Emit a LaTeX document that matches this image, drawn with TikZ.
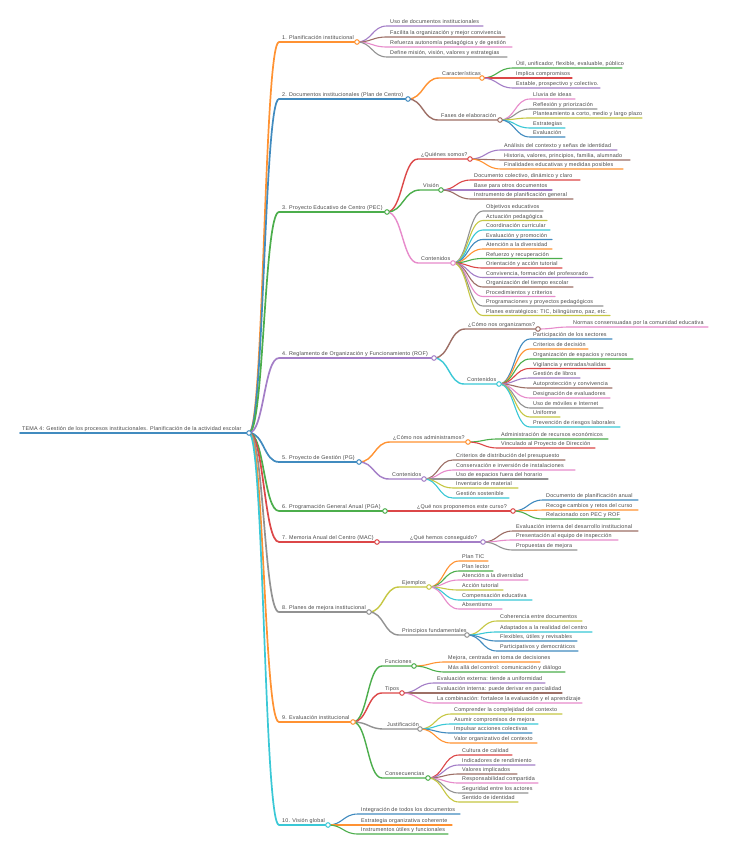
\documentclass[tikz,border=0pt]{standalone}
\usepackage{fontspec}
\setmainfont{Liberation Sans}[LetterSpace=3.5]
\usetikzlibrary{calc}
\definecolor{tBlue}{HTML}{1F77B4}
\definecolor{tOrange}{HTML}{FF7F0E}
\definecolor{tGreen}{HTML}{2CA02C}
\definecolor{tRed}{HTML}{D62728}
\definecolor{tPurple}{HTML}{9467BD}
\definecolor{tBrown}{HTML}{8C564B}
\definecolor{tPink}{HTML}{E377C2}
\definecolor{tGray}{HTML}{7F7F7F}
\definecolor{tOlive}{HTML}{BCBD22}
\definecolor{tCyan}{HTML}{17BECF}
\colorlet{cBlue}{tBlue!85!white}
\colorlet{cOrange}{tOrange!85!white}
\colorlet{cGreen}{tGreen!85!white}
\colorlet{cRed}{tRed!85!white}
\colorlet{cPurple}{tPurple!85!white}
\colorlet{cBrown}{tBrown!85!white}
\colorlet{cPink}{tPink!85!white}
\colorlet{cGray}{tGray!85!white}
\colorlet{cOlive}{tOlive!85!white}
\colorlet{cCyan}{tCyan!85!white}
\tikzset{
  txt/.style={inner sep=0pt, font=\fontsize{5.4}{6}\selectfont, text=black!72},
  wa/.style={line width=1.7pt, line cap=round},
  wb/.style={line width=1.4pt, line cap=round},
  wc/.style={line width=1.1pt, line cap=round},
  dot/.style={circle, inner sep=0pt, minimum size=4.6pt, fill=white, line width=1pt}
}
\newcommand\mn[7]{%
  \coordinate (#1s) at ({#3-3},{#4});
  \coordinate (#1) at ({#5},{#4});
  \node[txt,anchor=base west] (#1t) at ({#3},{#4-2.4}) {#7};
  \draw[#6] let \p1=(#2), \p2=(#1s) in (\p1) .. controls ({0.5*\x1+0.5*\x2},\y1) and ({0.5*\x1+0.5*\x2},\y2) .. (\p2) -- (#1);
}
\newcommand\dt[2]{\node[dot,draw=#2] at (#1) {};}
\begin{document}
\begin{tikzpicture}[x=1pt,y=-1pt]
\useasboundingbox[fill=white] (0,0) rectangle (733,848);
% root
\coordinate (Rs) at (20,433);
\coordinate (R) at (249,433);
\node[txt,anchor=base west] (Rt) at (22,430.6) {TEMA 4: Gestión de los procesos institucionales. Planificación de la actividad escolar};
\draw[cBlue,wa] (Rs) -- (R);
% level 1
\mn{A1}{R}{282}{42}{357}{cOrange,wa}{1. Planificación institucional}
\mn{A2}{R}{282}{99}{408}{cBlue,wa}{2. Documentos institucionales (Plan de Centro)}
\mn{A3}{R}{282}{212}{387}{cGreen,wa}{3. Proyecto Educativo de Centro (PEC)}
\mn{A4}{R}{282}{358}{434}{cPurple,wa}{4. Reglamento de Organización y Funcionamiento (ROF)}
\mn{A5}{R}{282}{462}{359}{cBlue,wa}{5. Proyecto de Gestión (PG)}
\mn{A6}{R}{282}{511}{385}{cGreen,wa}{6. Programación General Anual (PGA)}
\mn{A7}{R}{282}{542}{377}{cRed,wa}{7. Memoria Anual del Centro (MAC)}
\mn{A8}{R}{282}{612}{369}{cGray,wa}{8. Planes de mejora institucional}
\mn{A9}{R}{282}{722}{353}{cOrange,wa}{9. Evaluación institucional}
\mn{A10}{R}{282}{825}{328}{cCyan,wa}{10. Visión global}
% branch 1
\mn{A1a}{A1}{390}{26}{483}{cPurple,wc}{Uso de documentos institucionales}
\mn{A1b}{A1}{390}{37}{505}{cBrown,wc}{Facilita la organización y mejor convivencia}
\mn{A1c}{A1}{390}{47}{512}{cPink,wc}{Refuerza autonomía pedagógica y de gestión}
\mn{A1d}{A1}{390}{57}{507}{cGray,wc}{Define misión, visión, valores y estrategias}
% branch 2
\mn{B1}{A2}{442}{78}{482}{cOrange,wb}{Características}
\mn{B2}{A2}{441}{120}{500}{cBrown,wb}{Fases de elaboración}
\mn{B1a}{B1}{516}{68}{622}{cGreen,wc}{Útil, unificador, flexible, evaluable, público}
\mn{B1b}{B1}{516}{78}{572}{cRed,wc}{Implica compromisos}
\mn{B1c}{B1}{516}{88}{600}{cPurple,wc}{Estable, prospectivo y colectivo.}
\mn{B2a}{B2}{533}{99}{575}{cPink,wc}{Lluvia de ideas}
\mn{B2b}{B2}{533}{109}{597}{cGray,wc}{Reflexión y priorización}
\mn{B2c}{B2}{533}{118}{642}{cOlive,wc}{Planteamiento a corto, medio y largo plazo}
\mn{B2d}{B2}{533}{128}{565}{cCyan,wc}{Estrategias}
\mn{B2e}{B2}{533}{137}{565}{cBlue,wc}{Evaluación}
% branch 3
\mn{C1}{A3}{421}{159}{470}{cRed,wb}{¿Quiénes somos?}
\mn{C2}{A3}{423}{190}{441}{cGreen,wb}{Visión}
\mn{C3}{A3}{421}{263}{453}{cPink,wb}{Contenidos}
\mn{C1a}{C1}{504}{150}{617}{cPurple,wc}{Análisis del contexto y señas de identidad}
\mn{C1b}{C1}{504}{160}{630}{cBrown,wc}{Historia, valores, principios, familia, alumnado}
\mn{C1c}{C1}{504}{169}{623}{cOrange,wc}{Finalidades educativas y medidas posibles}
\mn{C2a}{C2}{474}{180}{580}{cRed,wc}{Documento colectivo, dinámico y claro}
\mn{C2b}{C2}{474}{190}{552}{cPurple,wc}{Base para otros documentos}
\mn{C2c}{C2}{474}{199}{573}{cBrown,wc}{Instrumento de planificación general}
\mn{C3a}{C3}{486}{211}{543}{cGray,wc}{Objetivos educativos}
\mn{C3b}{C3}{486}{220.5}{547}{cOlive,wc}{Actuación pedagógica}
\mn{C3c}{C3}{486}{230}{550}{cCyan,wc}{Coordinación curricular}
\mn{C3d}{C3}{486}{239.5}{552}{cBlue,wc}{Evaluación y promoción}
\mn{C3e}{C3}{486}{249}{552}{cOrange,wc}{Atención a la diversidad}
\mn{C3f}{C3}{486}{258.5}{562}{cGreen,wc}{Refuerzo y recuperación}
\mn{C3g}{C3}{486}{268}{562}{cRed,wc}{Orientación y acción tutorial}
\mn{C3h}{C3}{486}{277.5}{593}{cPurple,wc}{Convivencia, formación del profesorado}
\mn{C3i}{C3}{486}{287}{573}{cBrown,wc}{Organización del tiempo escolar}
\mn{C3j}{C3}{486}{296.5}{555}{cPink,wc}{Procedimientos y criterios}
\mn{C3k}{C3}{486}{306}{603}{cGray,wc}{Programaciones y proyectos pedagógicos}
\mn{C3l}{C3}{486}{315.5}{610}{cOlive,wc}{Planes estratégicos: TIC, bilingüismo, paz, etc.}
% branch 4
\mn{D1}{A4}{468}{329}{538}{cBrown,wb}{¿Cómo nos organizamos?}
\mn{D2}{A4}{467}{384}{499}{cCyan,wb}{Contenidos}
\mn{D1a}{D1}{573}{327}{708}{cPink,wc}{Normas consensuadas por la comunidad educativa}
\mn{D2a}{D2}{533}{339}{612}{cBlue,wc}{Participación de los sectores}
\mn{D2b}{D2}{533}{349}{588}{cOrange,wc}{Criterios de decisión}
\mn{D2c}{D2}{533}{359}{633}{cGreen,wc}{Organización de espacios y recursos}
\mn{D2d}{D2}{533}{368.5}{610}{cRed,wc}{Vigilancia y entradas/salidas}
\mn{D2e}{D2}{533}{378}{580}{cPurple,wc}{Gestión de libros}
\mn{D2f}{D2}{533}{388}{612}{cBrown,wc}{Autoprotección y convivencia}
\mn{D2g}{D2}{533}{398}{610}{cPink,wc}{Designación de evaluadores}
\mn{D2h}{D2}{533}{408}{603}{cGray,wc}{Uso de móviles e Internet}
\mn{D2i}{D2}{533}{417}{560}{cOlive,wc}{Uniforme}
\mn{D2j}{D2}{533}{427}{620}{cCyan,wc}{Prevención de riesgos laborales}
% branch 5
\mn{E1}{A5}{393}{442}{468}{cOrange,wb}{¿Cómo nos administramos?}
\mn{E2}{A5}{392}{479}{424}{cPurple,wb}{Contenidos}
\mn{E1a}{E1}{501}{439}{608}{cGreen,wc}{Administración de recursos económicos}
\mn{E1b}{E1}{501}{448}{595}{cRed,wc}{Vinculado al Proyecto de Dirección}
\mn{E2a}{E2}{456}{460}{565}{cBrown,wc}{Criterios de distribución del presupuesto}
\mn{E2b}{E2}{456}{470}{575}{cPink,wc}{Conservación e inversión de instalaciones}
\mn{E2c}{E2}{456}{479}{548}{cGray,wc}{Uso de espacios fuera del horario}
\mn{E2d}{E2}{456}{488}{518}{cOlive,wc}{Inventario de material}
\mn{E2e}{E2}{456}{498}{509}{cCyan,wc}{Gestión sostenible}
% branch 6
\mn{F1}{A6}{417}{511}{513}{cRed,wb}{¿Qué nos proponemos este curso?}
\mn{F1a}{F1}{546}{500}{638}{cBlue,wc}{Documento de planificación anual}
\mn{F1b}{F1}{546}{510}{638}{cOrange,wc}{Recoge cambios y retos del curso}
\mn{F1c}{F1}{546}{519}{620}{cGreen,wc}{Relacionado con PEC y ROF}
% branch 7
\mn{G1}{A7}{410}{542}{483}{cPurple,wb}{¿Qué hemos conseguido?}
\mn{G1a}{G1}{516}{531}{638}{cBrown,wc}{Evaluación interna del desarrollo institucional}
\mn{G1b}{G1}{516}{540}{618}{cPink,wc}{Presentación al equipo de inspección}
\mn{G1c}{G1}{516}{550}{577}{cGray,wc}{Propuestas de mejora}
% branch 8
\mn{H1}{A8}{402}{587}{429}{cOlive,wb}{Ejemplos}
\mn{H2}{A8}{402}{635}{467}{cGray,wb}{Principios fundamentales}
\mn{H1a}{H1}{462}{561}{488}{cOrange,wc}{Plan TIC}
\mn{H1b}{H1}{462}{571}{493}{cGreen,wc}{Plan lector}
\mn{H1c}{H1}{462}{580}{528}{cPink,wc}{Atención a la diversidad}
\mn{H1d}{H1}{462}{590}{503}{cOlive,wc}{Acción tutorial}
\mn{H1e}{H1}{462}{600}{532}{cCyan,wc}{Compensación educativa}
\mn{H1f}{H1}{462}{609}{502}{cPink,wc}{Absentismo}
\mn{H2a}{H2}{500}{621}{582}{cOlive,wc}{Coherencia entre documentos}
\mn{H2b}{H2}{500}{632}{592}{cCyan,wc}{Adaptados a la realidad del centro}
\mn{H2c}{H2}{500}{641}{577}{cBlue,wc}{Flexibles, útiles y revisables}
\mn{H2d}{H2}{500}{651}{578}{cBlue,wc}{Participativos y democráticos}
% branch 9
\mn{I1}{A9}{385}{666}{414}{cGreen,wb}{Funciones}
\mn{I2}{A9}{385}{693}{402}{cRed,wb}{Tipos}
\mn{I3}{A9}{387}{729}{420}{cGray,wb}{Justificación}
\mn{I4}{A9}{385}{778}{428}{cGreen,wb}{Consecuencias}
\mn{I1a}{I1}{448}{662}{540}{cOrange,wc}{Mejora, centrada en toma de decisiones}
\mn{I1b}{I1}{448}{672}{565}{cGreen,wc}{Más allá del control: comunicación y diálogo}
\mn{I2a}{I2}{437}{683}{545}{cPurple,wc}{Evaluación externa: tiende a uniformidad}
\mn{I2b}{I2}{437}{693}{562}{cBrown,wc}{Evaluación interna: puede derivar en parcialidad}
\mn{I2c}{I2}{437}{703}{582}{cPink,wc}{La combinación: fortalece la evaluación y el aprendizaje}
\mn{I3a}{I3}{454}{714}{562}{cOlive,wc}{Comprender la complejidad del contexto}
\mn{I3b}{I3}{454}{724}{538}{cCyan,wc}{Asumir compromisos de mejora}
\mn{I3c}{I3}{454}{733}{532}{cBlue,wc}{Impulsar acciones colectivas}
\mn{I3d}{I3}{454}{743}{537}{cOrange,wc}{Valor organizativo del contexto}
\mn{I4a}{I4}{462}{755}{512}{cRed,wc}{Cultura de calidad}
\mn{I4b}{I4}{462}{765}{535}{cPurple,wc}{Indicadores de rendimiento}
\mn{I4c}{I4}{462}{774}{517}{cBrown,wc}{Valores implicados}
\mn{I4d}{I4}{462}{783}{538}{cPink,wc}{Responsabilidad compartida}
\mn{I4e}{I4}{462}{793}{528}{cGray,wc}{Seguridad entre los actores}
\mn{I4f}{I4}{462}{802}{518}{cOlive,wc}{Sentido de identidad}
% branch 10
\mn{J1}{A10}{361}{814}{460}{cBlue,wc}{Integración de todos los documentos}
\mn{J2}{A10}{361}{825}{452}{cOrange,wc}{Estrategia organizativa coherente}
\mn{J3}{A10}{361}{834}{448}{cGreen,wc}{Instrumentos útiles y funcionales}
% circles
\dt{R}{cBlue}
\dt{A1}{cOrange}\dt{A2}{cBlue}\dt{A3}{cGreen}\dt{A4}{cPurple}\dt{A5}{cBlue}
\dt{A6}{cGreen}\dt{A7}{cRed}\dt{A8}{cGray}\dt{A9}{cOrange}\dt{A10}{cCyan}
\dt{B1}{cOrange}\dt{B2}{cBrown}
\dt{C1}{cRed}\dt{C2}{cGreen}\dt{C3}{cPink}
\dt{D1}{cBrown}\dt{D2}{cCyan}
\dt{E1}{cOrange}\dt{E2}{cPurple}
\dt{F1}{cRed}\dt{G1}{cPurple}
\dt{H1}{cOlive}\dt{H2}{cGray}
\dt{I1}{cGreen}\dt{I2}{cRed}\dt{I3}{cGray}\dt{I4}{cGreen}
\end{tikzpicture}
\end{document}
